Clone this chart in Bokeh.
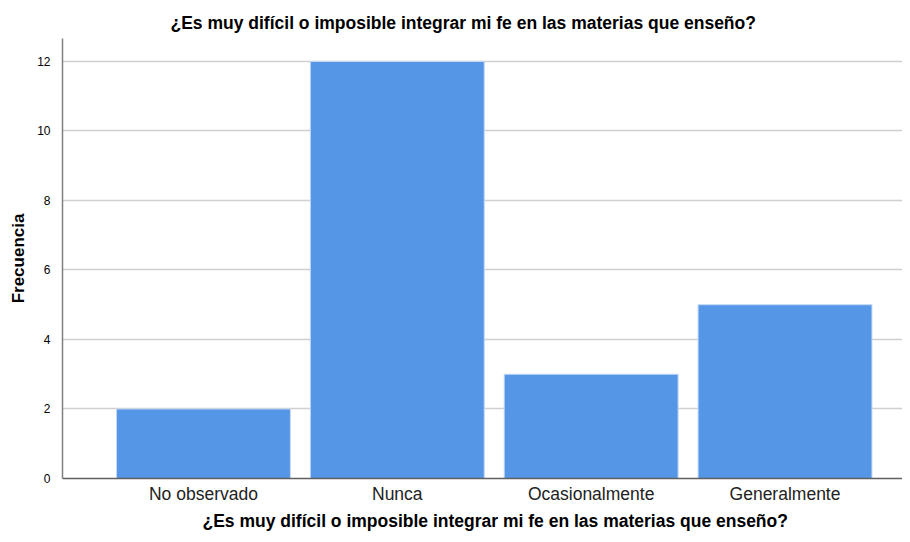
from bokeh.plotting import figure
from bokeh.models import FixedTicker, Range1d, Title, ColumnDataSource
from bokeh.embed import file_html
from bokeh.resources import INLINE

categories = ["No observado", "Nunca", "Ocasionalmente", "Generalmente"]
frecuencia = [2, 12, 3, 5]
y_ticks = [0, 2, 4, 6, 8, 10, 12]
title_text = "¿Es muy difícil o imposible integrar mi fe en las materias que enseño?"

FONT = "Liberation Sans"

pos = list(range(len(categories)))
src = ColumnDataSource(dict(x=pos, top=frecuencia, cat=categories))

p = figure(width=902, height=534, output_backend="svg", toolbar_location=None,
           x_range=Range1d(-0.727, 3.606), y_range=Range1d(0, 12.66),
           min_border_left=62, min_border_right=0, min_border_top=38,
           min_border_bottom=56)

t = Title(text=title_text, align="left", text_font=FONT, text_font_size="17.5px",
          text_font_style="bold", text_color="#000000", standoff=11, offset=108)
p.add_layout(t, "above")

xt = Title(text=title_text, align="left", text_font=FONT, text_font_size="17.5px",
           text_font_style="bold", text_color="#000000", standoff=5, offset=140)
p.add_layout(xt, "below")

p.vbar(x="x", top="top", width=0.897, bottom=0, source=src,
       fill_color="#5596e6", line_color="#c4d8f4", line_width=1)

p.outline_line_color = None
p.background_fill_color = "white"
p.border_fill_color = "white"

p.xgrid.grid_line_color = None
p.ygrid.grid_line_color = "#d0d0d0"
p.ygrid.grid_line_width = 1.5
p.ygrid.ticker = FixedTicker(ticks=y_ticks)

p.yaxis.ticker = FixedTicker(ticks=y_ticks)
p.yaxis.axis_label = "Frecuencia"
p.yaxis.axis_label_text_font = FONT
p.yaxis.axis_label_text_font_size = "17px"
p.yaxis.axis_label_text_font_style = "bold"
p.yaxis.axis_label_text_color = "#000000"
p.yaxis.axis_label_standoff = 6
p.yaxis.major_label_text_font = FONT
p.yaxis.major_label_text_font_size = "12px"
p.yaxis.major_label_text_color = "#000000"
p.yaxis.major_label_standoff = 6
p.yaxis.major_tick_line_color = None
p.yaxis.minor_tick_line_color = None
p.yaxis.axis_line_color = "#808080"
p.yaxis.axis_line_width = 1.5

p.xaxis.ticker = FixedTicker(ticks=pos)
p.xaxis.major_label_overrides = {i: c for i, c in zip(pos, categories)}
p.xaxis.major_label_text_font = FONT
p.xaxis.major_label_text_font_size = "17.5px"
p.xaxis.major_label_text_color = "#222222"
p.xaxis.major_label_standoff = -1
p.xaxis.major_tick_line_color = None
p.xaxis.minor_tick_line_color = None
p.xaxis.axis_line_color = "#606060"
p.xaxis.axis_line_width = 1.5

open("out.html", "w").write(file_html(p, INLINE))
